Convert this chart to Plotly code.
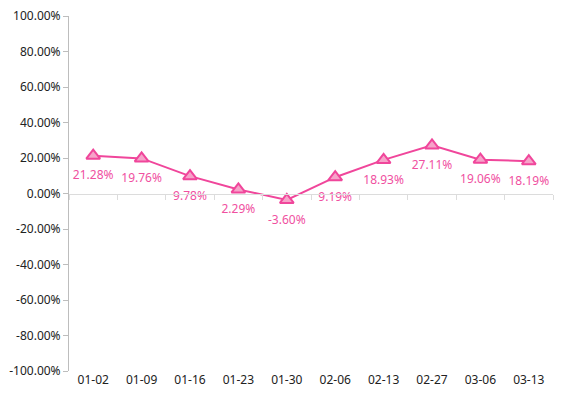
import plotly.graph_objects as go

categories = ["01-02", "01-09", "01-16", "01-23", "01-30", "02-06", "02-13", "02-27", "03-06", "03-13"]
values = [21.28, 19.76, 9.78, 2.29, -3.60, 9.19, 18.93, 27.11, 19.06, 18.19]
y_ticks = [-100, -80, -60, -40, -20, 0, 20, 40, 60, 80, 100]

pink = "#f0469b"
font_family = "Segoe UI, Noto Sans, Open Sans, sans-serif"

fig = go.Figure()
fig.add_trace(go.Scatter(
    x=categories, y=values, mode="lines+markers",
    line=dict(color=pink, width=2),
    marker=dict(symbol="triangle-up", size=12, color="#f6a3c9",
                line=dict(color=pink, width=2)),
    cliponaxis=False, hoverinfo="skip",
))
# data labels (transparent larger markers push the text a little lower)
fig.add_trace(go.Scatter(
    x=categories, y=values, mode="markers+text",
    marker=dict(size=22, opacity=0),
    text=[f"{v:.2f}%" for v in values],
    textposition="bottom center",
    textfont=dict(color="#f0509f", size=12, family=font_family),
    cliponaxis=False, hoverinfo="skip",
))
# invisible trace to host the zero-line category axis
fig.add_trace(go.Scatter(
    x=categories, y=values, xaxis="x2", mode="markers",
    marker=dict(opacity=0), hoverinfo="skip", showlegend=False,
))

fig.update_layout(
    width=559, height=391,
    margin=dict(l=61, r=14, t=8, b=28, autoexpand=False),
    paper_bgcolor="white", plot_bgcolor="white",
    showlegend=False,
    font=dict(family=font_family, size=12, color="#333333"),
    xaxis=dict(
        type="category", categoryorder="array", categoryarray=categories,
        range=[-0.5, len(categories) - 0.5], automargin=False,
        showline=False, showgrid=False, zeroline=False, ticks="",
        tickfont=dict(size=12, color="#222222"),
    ),
    xaxis2=dict(
        type="category", categoryorder="array", categoryarray=categories,
        range=[-0.5, len(categories) - 0.5], automargin=False,
        overlaying="x", anchor="free", position=0.5, side="bottom",
        showline=True, linecolor="#dcdcdc", linewidth=1,
        ticks="outside", tickson="boundaries", ticklen=5, tickcolor="#dcdcdc",
        showticklabels=False, showgrid=False, zeroline=False,
    ),
    yaxis=dict(
        range=[-100, 100], tickvals=y_ticks, automargin=False,
        ticktext=[f"{v:.2f}%" for v in y_ticks],
        ticklabeloverflow="allow",
        showline=True, linecolor="#bdbdbd", linewidth=1,
        ticks="outside", ticklen=5, tickcolor="#bdbdbd",
        showgrid=False, zeroline=False,
        tickfont=dict(size=12, color="#222222"),
    ),
)

fig.write_html("out.html")
